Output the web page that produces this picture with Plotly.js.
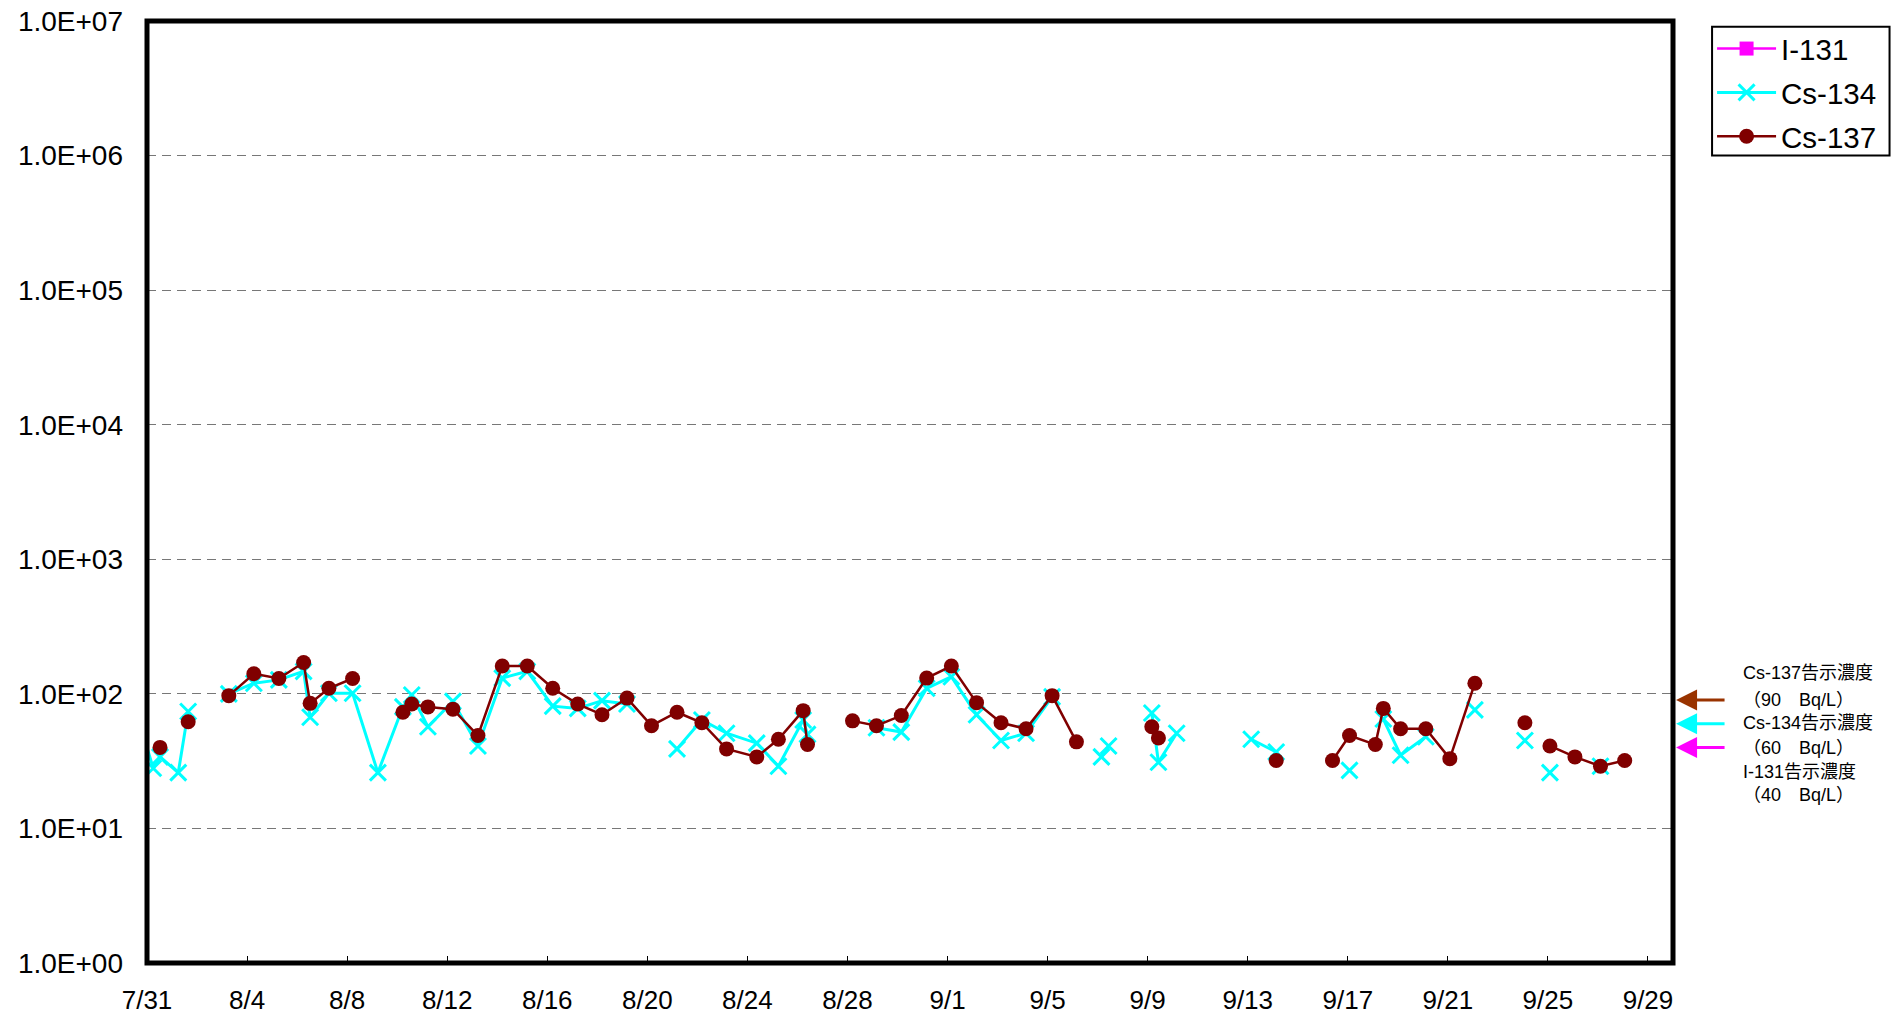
<!DOCTYPE html>
<html>
<head>
<meta charset="utf-8">
<script src="https://cdn.plot.ly/plotly-3.0.1.min.js"></script>
<style>html,body{margin:0;padding:0;background:#fff;}#chart{width:1904px;height:1019px;}</style>
</head>
<body>
<div id="chart"></div>
<script>
// Sampling times (null rows mark breaks in the lines)
var sampleTimes = [
 '2011-07-30 06:00','2011-07-31 06:00','2011-07-31 12:30','2011-08-01 06:00','2011-08-01 15:30','2011-08-02 12:00',
 '2011-08-03 06:30','2011-08-04 06:30','2011-08-05 06:30','2011-08-06 06:15','2011-08-06 12:30','2011-08-07 06:30',
 '2011-08-08 05:15','2011-08-09 05:30','2011-08-10 05:30','2011-08-10 14:00','2011-08-11 05:30','2011-08-12 05:30',
 '2011-08-13 05:30','2011-08-14 04:50','2011-08-15 04:50','2011-08-16 05:15','2011-08-17 05:15','2011-08-18 04:30',
 '2011-08-19 04:30','2011-08-20 04:00','2011-08-21 04:30','2011-08-22 04:20','2011-08-23 04:00','2011-08-24 09:00',
 '2011-08-25 05:45','2011-08-26 05:30','2011-08-26 09:40','2011-08-27 05:00','2011-08-28 04:50','2011-08-29 03:50',
 '2011-08-30 03:40','2011-08-31 04:00','2011-09-01 03:40','2011-09-02 03:50','2011-09-03 03:20','2011-09-04 03:20',
 '2011-09-05 04:20','2011-09-06 03:40','2011-09-07 03:40','2011-09-07 10:30','2011-09-08 05:00','2011-09-09 04:00',
 '2011-09-09 10:20','2011-09-10 03:50','2011-09-11 12:00','2011-09-13 03:20','2011-09-14 03:20','2011-09-15 05:00',
 '2011-09-16 09:20','2011-09-17 01:40','2011-09-18 02:25','2011-09-18 10:05','2011-09-19 02:40','2011-09-20 02:50',
 '2011-09-21 01:55','2011-09-22 01:55','2011-09-23 01:55','2011-09-24 01:55','2011-09-24 14:00','2011-09-25 01:55',
 '2011-09-26 01:55','2011-09-27 02:25','2011-09-28 01:40'
];
var cs134 = [
 114, 28, 34, 26, 74, null,
 100, 120, 127, 147, 67, 101,
 101, 26, 80, 98, 57, 88,
 41, 131, 147, 81, 78, 89,
 84, null, 39, 64, 51, 43,
 29, 64, 50, null, null, 56,
 52, 110, 134, 70, 45, 51,
 95, null, 34, 41, null, 72,
 31, 51, null, 46, 37, null,
 null, 27, null, 65, 35, 48,
 null, 76, null, 45, null, 26,
 null, 29, null
];
var cs137 = [
 null, null, 40, null, 62, null,
 97, 141, 130, 171, 85, 110,
 130, null, 73, 84, 80, 77,
 49, 161, 161, 110, 84, 70,
 93, 58, 73, 61, 39, 34,
 46, 75, 42, null, 63, 58,
 69, 131, 161, 86, 61, 55,
 97, 44, null, null, null, 57,
 47, null, null, null, 32, null,
 32, 49, 42, 78, 55, 55,
 33, 120, null, 61, null, 41,
 34, 29, 32
];
// I-131: not detected on any sampling day
var i131Times = ['2011-07-31 06:00'];
var i131 = [null];

var yTickVals = [1, 10, 100, 1000, 10000, 100000, 1000000, 10000000];
var yTickText = ['1.0E+00','1.0E+01','1.0E+02','1.0E+03','1.0E+04','1.0E+05','1.0E+06','1.0E+07'];

var limitNames = ['Cs-137', 'Cs-134', 'I-131'];
var limitValues = [90, 60, 40];
var limitColors = ['#993300', '#00FFFF', '#FF00FF'];
var noteLines = ['Cs-137告示濃度', '（90　Bq/L）', 'Cs-134告示濃度', '（60　Bq/L）', 'I-131告示濃度', '（40　Bq/L）'];

var traces = [
 {name: 'I-131', x: i131Times, y: i131, type: 'scatter', mode: 'lines+markers', legendgroup: 'a',
  line: {color: '#FF00FF', width: 2.5}, marker: {symbol: 'square', size: 14, color: '#FF00FF'}},
 {name: 'Cs-134', x: sampleTimes, y: cs134, type: 'scatter', mode: 'lines+markers', legendgroup: 'b',
  connectgaps: false, line: {color: '#00FFFF', width: 3},
  marker: {symbol: 'x-thin', size: 16, color: '#00FFFF', line: {color: '#00FFFF', width: 3}}},
 {name: 'Cs-137', x: sampleTimes, y: cs137, type: 'scatter', mode: 'lines+markers', legendgroup: 'c',
  connectgaps: false, line: {color: '#800000', width: 2.5},
  marker: {symbol: 'circle', size: 15, color: '#800000'}}
];

var annotations = [];
for (var i = 0; i < limitValues.length; i++) {
  annotations.push({
    xref: 'paper', yref: 'y', x: 1.002, y: Math.log10(limitValues[i]),
    text: '', showarrow: true, ax: 50, ay: 0, axref: 'pixel', ayref: 'pixel',
    arrowcolor: limitColors[i], arrowwidth: 3, arrowhead: 2, arrowsize: 1.4, standoff: 0
  });
}
var noteY = [0.3079, 0.2792, 0.2548, 0.2282, 0.2028, 0.1783];
for (var j = 0; j < noteLines.length; j++) {
  annotations.push({
    xref: 'paper', yref: 'paper', x: 1.0445, y: noteY[j], xanchor: 'left', yanchor: 'middle',
    text: noteLines[j], showarrow: false,
    font: {family: 'Liberation Sans, Noto Sans CJK JP, sans-serif', size: 18, color: '#000'}
  });
}

var layout = {
  width: 1904, height: 1019,
  margin: {l: 147, r: 231, t: 21, b: 56},
  paper_bgcolor: '#fff', plot_bgcolor: '#fff',
  font: {family: 'Liberation Sans, Arial, sans-serif', color: '#000'},
  showlegend: true,
  legend: {x: 1.0256, y: 0.998, xanchor: 'left', yanchor: 'top',
    bgcolor: 'rgba(0,0,0,0)', borderwidth: 0,
    font: {size: 29.5, family: 'Liberation Sans, Arial, sans-serif'},
    tracegroupgap: 2.5, itemwidth: 59},
  xaxis: {
    type: 'date', range: ['2011-07-31', '2011-09-30'],
    tick0: '2011-07-31', dtick: 4 * 86400000, tickformat: '%-m/%-d',
    ticks: 'inside', ticklen: 7, tickcolor: '#000', tickwidth: 1,
    showgrid: false, zeroline: false, showline: false,
    tickfont: {size: 26}, ticklabelstandoff: 19
  },
  yaxis: {
    type: 'log', range: [0, 7],
    tickvals: yTickVals, ticktext: yTickText,
    ticks: '', showgrid: true, gridcolor: '#777777', griddash: '9px,6px', gridwidth: 1.3,
    zeroline: false, showline: false,
    tickfont: {size: 28}, ticklabelstandoff: 23
  },
  shapes: [
    {type: 'rect', xref: 'paper', yref: 'paper', x0: 0, x1: 1, y0: 0, y1: 1,
     line: {color: '#000', width: 5}, layer: 'above'},
    {type: 'rect', xref: 'paper', yref: 'paper', x0: 1.0256, x1: 1.1419, y0: 0.8573, y1: 0.994,
     line: {color: '#000', width: 2}, fillcolor: 'rgba(0,0,0,0)', layer: 'above'}
  ],
  annotations: annotations
};

Plotly.newPlot('chart', traces, layout, {displayModeBar: false});
</script>
</body>
</html>
